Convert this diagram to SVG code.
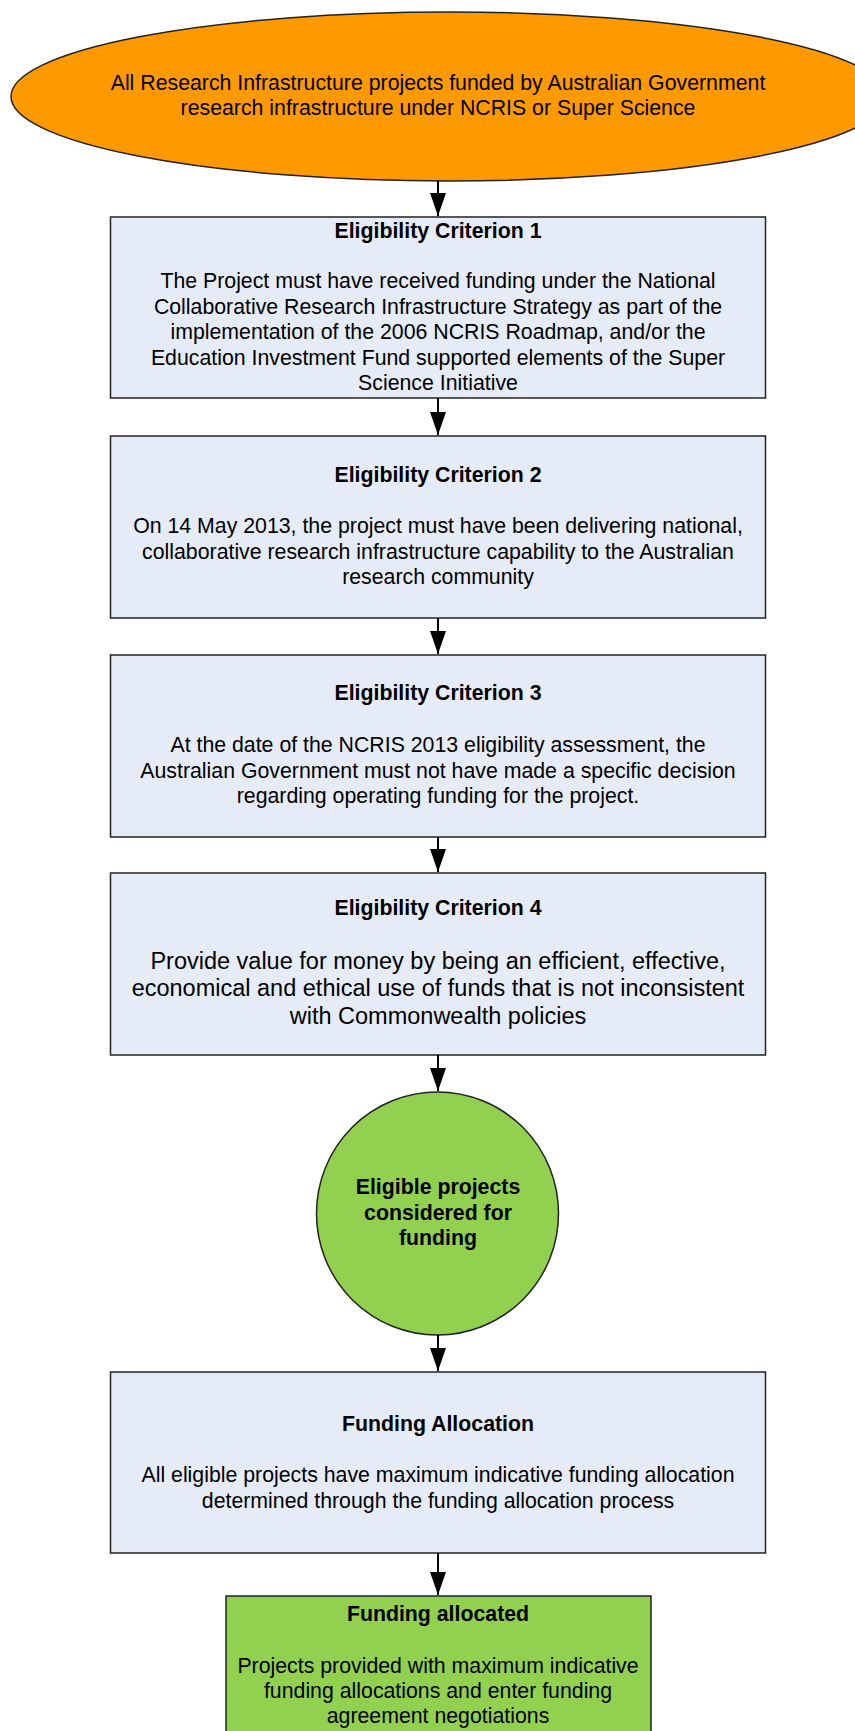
<svg xmlns="http://www.w3.org/2000/svg" width="855" height="1731" viewBox="0 0 855 1731">
<style>
text{font-family:"Liberation Sans",Arial,sans-serif;font-size:21.3px;fill:#000;text-anchor:middle}
.b{font-weight:bold}
.big{font-size:23.5px}
.box{fill:#E6ECF7;stroke:#222;stroke-width:1.5}
.conn line{stroke:#000;stroke-width:2}
</style>
<defs>
<marker id="ah" markerUnits="userSpaceOnUse" markerWidth="23" markerHeight="16" refX="23" refY="8" orient="auto" viewBox="0 0 23 16">
<path d="M0,0 L23,8 L0,16 Z" fill="#000"/>
</marker>
</defs>
<rect width="855" height="1731" fill="#fff"/>
<g id="start">
<ellipse cx="449" cy="96.5" rx="438" ry="84.5" fill="#FF9900" stroke="#222" stroke-width="1.5"/>
<text x="438" y="90">All Research Infrastructure projects funded by Australian Government</text>
<text x="438" y="115">research infrastructure under NCRIS or Super Science</text>
</g>
<g id="crit1">
<rect class="box" x="110.5" y="217" width="655" height="181"/>
<text class="b" x="438" y="238">Eligibility Criterion 1</text>
<text x="438" y="288">The Project must have received funding under the National</text>
<text x="438" y="313.5">Collaborative Research Infrastructure Strategy as part of the</text>
<text x="438" y="339">implementation of the 2006 NCRIS Roadmap, and/or the</text>
<text x="438" y="364.5">Education Investment Fund supported elements of the Super</text>
<text x="438" y="390">Science Initiative</text>
</g>
<g id="crit2">
<rect class="box" x="110.5" y="436" width="655" height="182"/>
<text class="b" x="438" y="482">Eligibility Criterion 2</text>
<text x="438" y="533">On 14 May 2013, the project must have been delivering national,</text>
<text x="438" y="558.5">collaborative research infrastructure capability to the Australian</text>
<text x="438" y="584">research community</text>
</g>
<g id="crit3">
<rect class="box" x="110.5" y="655" width="655" height="182"/>
<text class="b" x="438" y="700">Eligibility Criterion 3</text>
<text x="438" y="752">At the date of the NCRIS 2013 eligibility assessment, the</text>
<text x="438" y="777.5">Australian Government must not have made a specific decision</text>
<text x="438" y="803">regarding operating funding for the project.</text>
</g>
<g id="crit4">
<rect class="box" x="110.5" y="873" width="655" height="182"/>
<text class="b" x="438" y="915">Eligibility Criterion 4</text>
<text class="big" x="438" y="968.5">Provide value for money by being an efficient, effective,</text>
<text class="big" x="438" y="996">economical and ethical use of funds that is not inconsistent</text>
<text class="big" x="438" y="1023.5">with Commonwealth policies</text>
</g>
<g id="eligible">
<ellipse cx="437.5" cy="1213.5" rx="121" ry="121.5" fill="#92D050" stroke="#222" stroke-width="1.5"/>
<text class="b" x="438" y="1194">Eligible projects</text>
<text class="b" x="438" y="1220">considered for</text>
<text class="b" x="438" y="1245">funding</text>
</g>
<g id="allocation">
<rect class="box" x="110.5" y="1372" width="655" height="181"/>
<text class="b" x="438" y="1431">Funding Allocation</text>
<text x="438" y="1482">All eligible projects have maximum indicative funding allocation</text>
<text x="438" y="1508">determined through the funding allocation process</text>
</g>
<g id="allocated">
<rect x="226" y="1596" width="425" height="150" fill="#92D050" stroke="#222" stroke-width="1.5"/>
<text class="b" x="438" y="1621">Funding allocated</text>
<text x="438" y="1673">Projects provided with maximum indicative</text>
<text x="438" y="1698">funding allocations and enter funding</text>
<text x="438" y="1723">agreement negotiations</text>
</g>
<g id="connectors" class="conn">
<line x1="438" y1="181" x2="438" y2="216" marker-end="url(#ah)"/>
<line x1="438" y1="398" x2="438" y2="435" marker-end="url(#ah)"/>
<line x1="438" y1="618" x2="438" y2="654" marker-end="url(#ah)"/>
<line x1="438" y1="837" x2="438" y2="872" marker-end="url(#ah)"/>
<line x1="438" y1="1055" x2="438" y2="1091" marker-end="url(#ah)"/>
<line x1="438" y1="1335" x2="438" y2="1371" marker-end="url(#ah)"/>
<line x1="438" y1="1553" x2="438" y2="1595" marker-end="url(#ah)"/>
</g>
</svg>
